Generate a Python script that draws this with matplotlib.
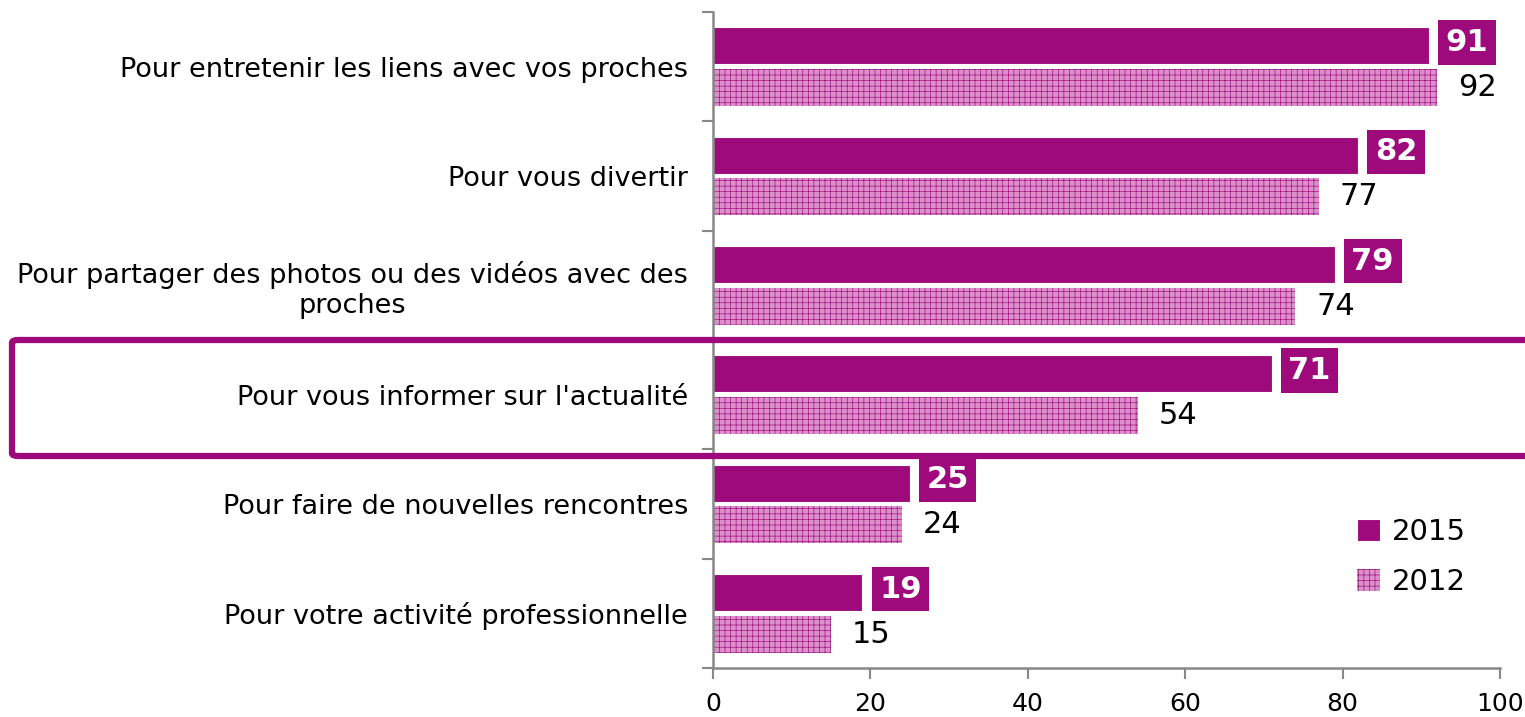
import matplotlib.pyplot as plt
import matplotlib.patches as mpatches
import numpy as np

# data
categories = ["Pour entretenir les liens avec vos proches",
              "Pour vous divertir",
              "Pour partager des photos ou des vidéos avec des\nproches",
              "Pour vous informer sur l'actualité",
              "Pour faire de nouvelles rencontres",
              "Pour votre activité professionnelle"]
vals_2015 = [91, 82, 79, 71, 25, 19]
vals_2012 = [92, 77, 74, 54, 24, 15]
xticks = [0, 20, 40, 60, 80, 100]

c15 = '#9e0a7b'
c12 = '#dc8fcb'
plt.rcParams['hatch.linewidth'] = 0.45

fig = plt.figure(figsize=(15.25, 7.17), dpi=100)
ax = fig.add_axes([0.4675, 0.0683, 0.5161, 0.915])

y = np.arange(len(categories))
h = 0.34
off = 0.19
b15 = ax.barh(y - off, vals_2015, height=h, color=c15, edgecolor='white', linewidth=0.8, label='2015')
b12 = ax.barh(y + off, vals_2012, height=h, color=c12, edgecolor=c15, linewidth=0, hatch='+++', label='2012')

for yy, v in zip(y, vals_2015):
    ax.annotate(str(v), xy=(v, yy - off - 0.03), xytext=(12, 0), textcoords='offset points',
                ha='left', va='center', fontsize=22, fontweight='bold', color='white',
                bbox=dict(boxstyle='square,pad=0.25', fc=c15, ec='none'))
for yy, v in zip(y, vals_2012):
    ax.annotate(str(v), xy=(v, yy + off), xytext=(15, 0), textcoords='offset points',
                ha='left', va='center', fontsize=22, color='black')

ax.set_xlim(0, 100)
ax.set_ylim(len(categories) - 0.5, -0.5)
ax.set_xticks(xticks)
ax.tick_params(axis='x', labelsize=18, length=8, width=1.5, color='#888888', pad=9)
ax.set_yticks(y)
ax.set_yticklabels(categories, fontsize=19.5, multialignment='center')
ax.tick_params(axis='y', which='major', length=0, pad=18)
ax.set_yticks(np.arange(-0.5, len(categories), 1), minor=True)
ax.tick_params(axis='y', which='minor', length=8, width=1.5, color='#888888')

for s in ['top', 'right']:
    ax.spines[s].set_visible(False)
for s in ['left', 'bottom']:
    ax.spines[s].set_color('#888888')
    ax.spines[s].set_linewidth(1.8)

ax.legend(loc='lower right', bbox_to_anchor=(0.99, 0.07), frameon=False, fontsize=21,
          handlelength=0.8, handleheight=0.8, handletextpad=0.4, labelspacing=0.75)

# highlight box around "actualité"
rect = mpatches.FancyBboxPatch((12 / 1525, 1 - 456 / 717), (1540 - 12) / 1525, 116 / 717,
                               boxstyle='round,pad=0,rounding_size=0.004',
                               transform=fig.transFigure, fill=False, ec=c15, lw=4.5,
                               clip_on=False)
fig.add_artist(rect)

fig.savefig('out.png', dpi=100)
